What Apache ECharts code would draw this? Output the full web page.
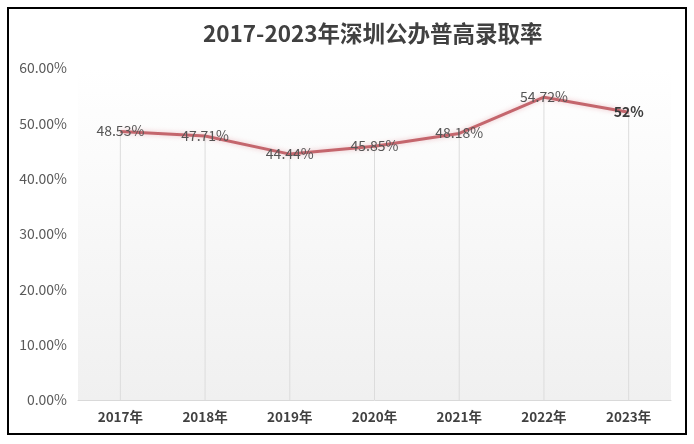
<!DOCTYPE html>
<html><head><meta charset="utf-8">
<script src="https://cdn.jsdelivr.net/npm/echarts@6/dist/echarts.min.js"></script>
<style>html,body{margin:0;padding:0;background:#fff}#c{width:694px;height:444px}</style>
</head><body><div id="c"></div>
<script>
const title = '2017-2023年深圳公办普高录取率';
const categories = ['2017年','2018年','2019年','2020年','2021年','2022年','2023年'];
const rates = [48.53, 47.71, 44.44, 45.85, 48.18, 54.72, 52];
const rateLabels = ['48.53%','47.71%','44.44%','45.85%','48.18%','54.72%','52%'];
const yTicks = [0, 10, 20, 30, 40, 50, 60];

const font = '"Noto Sans CJK SC", "Open Sans", sans-serif';
const lineData = rates.map((v, i) => i === rates.length - 1
  ? { value: v, label: { fontWeight: 'bold', color: '#3a3a3a' } } : { value: v });
const chart = echarts.init(document.getElementById('c'));
chart.setOption({
  animation: false,
  backgroundColor: '#fff',
  title: { text: title, left: 198, top: 17,
    textStyle: { fontFamily: font, fontSize: 22.5, fontWeight: 'bold', color: '#404040' } },
  graphic: [{ type: 'rect', shape: { x: 8, y: 8, width: 678, height: 426 },
    style: { fill: 'none', stroke: '#000', lineWidth: 2 }, z: 100 }],
  grid: { left: 78, right: 23, top: 68, bottom: 44, show: true, borderWidth: 0,
    backgroundColor: new echarts.graphic.LinearGradient(0, 0, 0, 1, [
      { offset: 0, color: 'rgba(255,255,255,1)' },
      { offset: 1, color: 'rgba(240,240,240,1)' }]) },
  xAxis: { type: 'category', data: categories, boundaryGap: true,
    axisLine: { lineStyle: { color: '#d9d9d9', width: 1 } },
    axisTick: { show: false },
    axisLabel: { fontFamily: font, fontSize: 13.5, fontWeight: 'bold', color: '#404040', margin: 10 } },
  yAxis: { type: 'value', min: yTicks[0], max: yTicks[yTicks.length - 1], interval: 10,
    axisLine: { show: false }, axisTick: { show: false }, splitLine: { show: false },
    axisLabel: { fontFamily: font, fontSize: 14, color: '#595959', margin: 11,
      formatter: v => v.toFixed(2) + '%' } },
  series: [
    { type: 'bar', data: rates, barWidth: 1, silent: true,
      itemStyle: { color: '#dcdcdc' }, z: 1 },
    { type: 'line', data: lineData, symbol: 'circle', symbolSize: 1, showSymbol: true, z: 3,
      itemStyle: { color: 'rgba(0,0,0,0)' },
      lineStyle: { color: '#c4666d', width: 3, shadowColor: 'rgba(220,120,130,0.45)', shadowBlur: 5 },
      label: { show: true, position: 'top', offset: [0, 12],
        fontFamily: font, fontSize: 14,
        formatter: p => rateLabels[p.dataIndex],
        color: '#555555' } }
  ]
});
</script></body></html>
